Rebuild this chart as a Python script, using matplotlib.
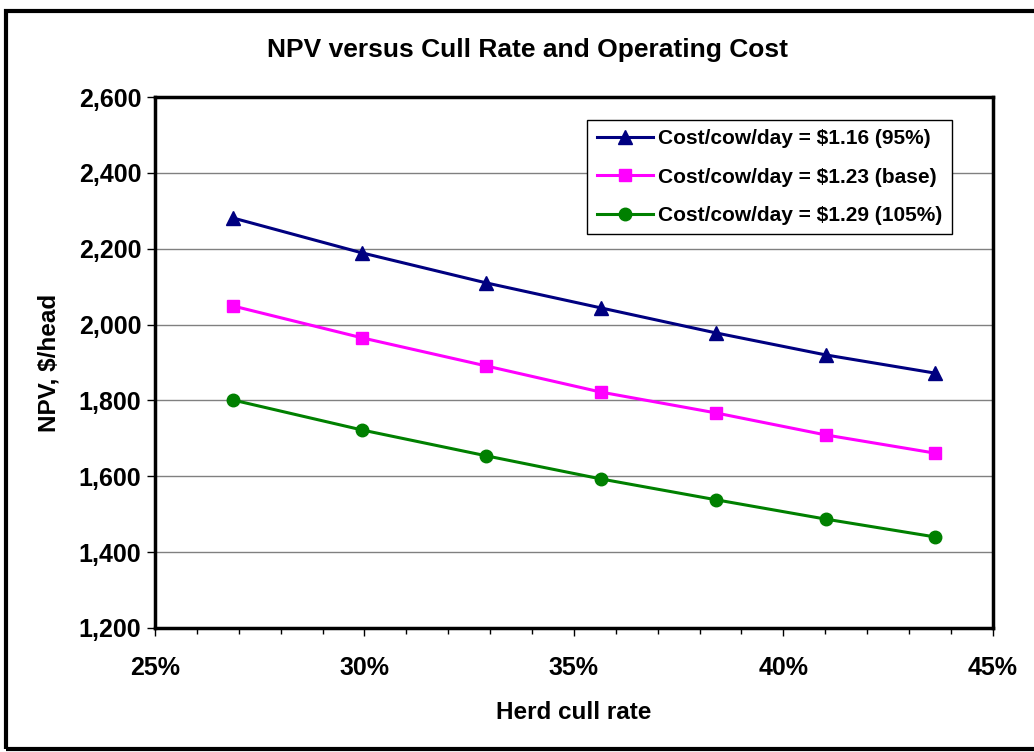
import numpy as np
import matplotlib
matplotlib.use('Agg')
import matplotlib.pyplot as plt
from matplotlib.ticker import MultipleLocator, FuncFormatter
from matplotlib.patches import Rectangle

plt.rcParams['font.family'] = ['Liberation Sans', 'DejaVu Sans']
plt.rcParams['font.weight'] = 'bold'

cull_rate = [26.86, 29.94, 32.9, 35.64, 38.39, 41.01, 43.62]
npv_95 = [2281, 2189, 2110, 2044, 1978, 1920, 1872]
npv_base = [2049, 1965, 1891, 1822, 1767, 1709, 1661]
npv_105 = [1801, 1722, 1654, 1593, 1538, 1487, 1440]
labels = ['Cost/cow/day = $1.16 (95%)', 'Cost/cow/day = $1.23 (base)',
          'Cost/cow/day = $1.29 (105%)']

fig = plt.figure(figsize=(10.34, 7.52), dpi=100)
ax = fig.add_axes([0.150, 0.165, 0.810, 0.706])

ax.plot(cull_rate, npv_95, '-^', color='#000080', lw=2.2, ms=10, label=labels[0])
ax.plot(cull_rate, npv_base, '-s', color='#FF00FF', lw=2.2, ms=9, label=labels[1])
ax.plot(cull_rate, npv_105, '-o', color='#008000', lw=2.2, ms=9, label=labels[2])

ax.set_xlim(25, 45)
ax.set_ylim(1200, 2600)
ax.xaxis.set_major_locator(MultipleLocator(5))
ax.xaxis.set_minor_locator(MultipleLocator(1))
ax.yaxis.set_major_locator(MultipleLocator(200))
ax.xaxis.set_major_formatter(FuncFormatter(lambda v, p: '%d%%' % v))
ax.yaxis.set_major_formatter(FuncFormatter(lambda v, p: '{:,.0f}'.format(v)))
ax.grid(axis='y', color='#808080', lw=1)
ax.set_axisbelow(True)
for s in ax.spines.values():
    s.set_linewidth(2.5)
ax.tick_params(axis='both', which='major', direction='out', length=6, width=1,
               labelsize=18, pad=4)
ax.tick_params(axis='x', which='major', pad=14)
ax.tick_params(axis='x', which='minor', direction='out', length=4, width=1)
for t in ax.get_xticklabels() + ax.get_yticklabels():
    t.set_fontweight('bold')

ax.set_xlabel('Herd cull rate', fontsize=17.5, fontweight='bold', labelpad=15)
ax.set_ylabel('NPV, $/head', fontsize=17.5, fontweight='bold', labelpad=13)
fig.text(0.51, 0.934, 'NPV versus Cull Rate and Operating Cost', ha='center',
         va='center', fontsize=19, fontweight='bold')

leg = ax.legend(loc='upper right', bbox_to_anchor=(0.951, 0.957),
                prop={'weight': 'bold', 'size': 15}, fancybox=False,
                framealpha=1, edgecolor='black', handlelength=2.7,
                handletextpad=0.25, borderpad=0.45, labelspacing=0.93,
                borderaxespad=0)
leg.get_frame().set_linewidth(1)

fig.patches.append(Rectangle((0.006, 0.004), 1.2, 0.982, transform=fig.transFigure,
                             fill=False, edgecolor='black', lw=3))

fig.savefig('out.png', dpi=100)
